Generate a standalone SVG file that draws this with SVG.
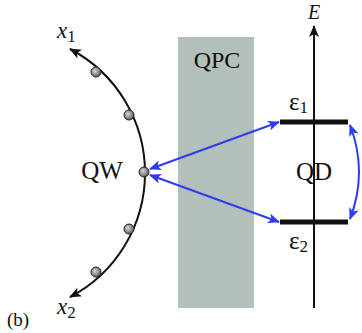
<svg xmlns="http://www.w3.org/2000/svg" width="362" height="333" viewBox="0 0 362 333">
<defs>
<style>
text{font-family:'Liberation Serif','DejaVu Serif','Times New Roman',Times,serif;fill:#111}
.it{font-style:italic}
.blue{stroke:#2b3cf2;stroke-width:2;fill:none}
.blk{stroke:#111;stroke-width:2;fill:none}
.dot{fill:url(#g);stroke:#222;stroke-width:1}
</style>
<radialGradient id="g" cx="0.4" cy="0.4" r="0.6">
<stop offset="0" stop-color="#d8d8d8"/><stop offset="1" stop-color="#606060"/>
</radialGradient>
<marker id="ab" viewBox="0 0 12 10" refX="11" refY="5" markerWidth="12" markerHeight="10" markerUnits="userSpaceOnUse" orient="auto-start-reverse">
<path d="M0,0 L12,5 L0,10 L3,5 Z" fill="#2b3cf2"/>
</marker>
<marker id="ak" viewBox="0 0 12 10" refX="11" refY="5" markerWidth="14" markerHeight="10" markerUnits="userSpaceOnUse" orient="auto-start-reverse">
<path d="M0,0 L12,5 L0,10 L3,5 Z" fill="#111"/>
</marker>
</defs>
<g id="qpc">
<rect x="178" y="37" width="76" height="271" fill="#b2bfba"/>
<text x="217" y="68" font-size="24" text-anchor="middle">QPC</text>
</g>
<g id="axis">
<line class="blk" x1="314" y1="308" x2="314" y2="26" stroke-width="1.6" marker-end="url(#ak)"/>
<text class="it" x="314" y="19" font-size="20" text-anchor="middle">E</text>
</g>
<g id="qd">
<line x1="280" y1="122" x2="348" y2="122" stroke="#111" stroke-width="5"/>
<line x1="280" y1="222" x2="348" y2="222" stroke="#111" stroke-width="5"/>
<text x="289" y="110" font-size="25">ε<tspan font-size="17" dy="3">1</tspan></text>
<text x="289" y="249" font-size="25">ε<tspan font-size="17" dy="3">2</tspan></text>
<text x="314" y="180" font-size="25" text-anchor="middle">QD</text>
</g>
<g id="qw">
<path class="blk" d="M70,49 A140,140 0 0 1 70,297" marker-start="url(#ak)" marker-end="url(#ak)"/>
<circle class="dot" cx="96" cy="72" r="5"/>
<circle class="dot" cx="129" cy="115" r="5"/>
<circle class="dot" cx="144" cy="172" r="5"/>
<circle class="dot" cx="129" cy="229" r="5"/>
<circle class="dot" cx="96" cy="272" r="5"/>
<text x="102" y="179" font-size="25" text-anchor="middle">QW</text>
<text class="it" x="57" y="38" font-size="23">x<tspan font-style="normal" font-size="17" dy="4">1</tspan></text>
<text class="it" x="57" y="314" font-size="23">x<tspan font-style="normal" font-size="17" dy="4">2</tspan></text>
</g>
<g id="connectors">
<line class="blue" x1="150" y1="169" x2="279" y2="122" marker-start="url(#ab)" marker-end="url(#ab)"/>
<line class="blue" x1="150" y1="175" x2="279" y2="222" marker-start="url(#ab)" marker-end="url(#ab)"/>
<path class="blue" d="M350,125 Q368,172 350,219" marker-start="url(#ab)" marker-end="url(#ab)"/>
</g>
<text x="7" y="326" font-size="19">(b)</text>
</svg>
